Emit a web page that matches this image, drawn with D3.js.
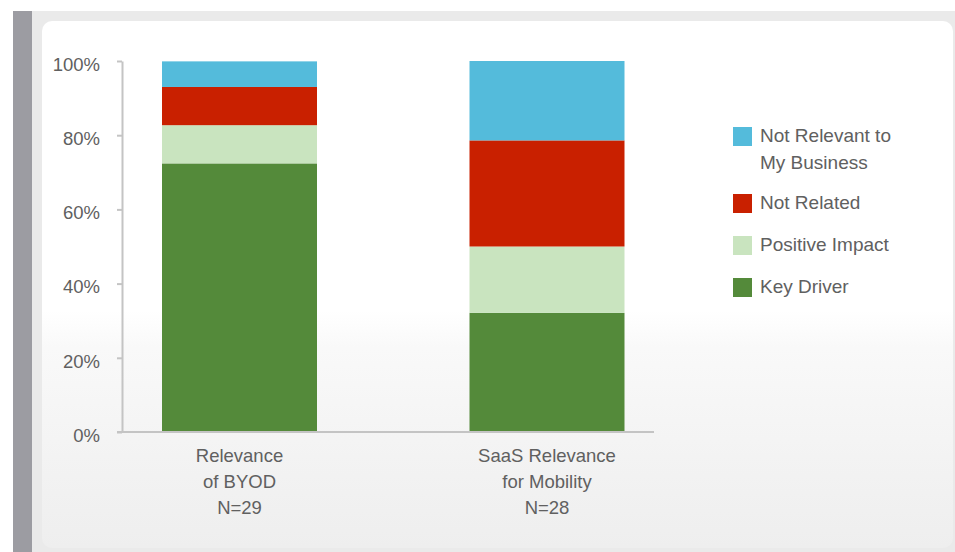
<!DOCTYPE html>
<html>
<head>
<meta charset="utf-8">
<script src="https://cdn.jsdelivr.net/npm/d3@7"></script>
<style>
  html, body { margin: 0; padding: 0; background: #fff; }
  svg { display: block; font-family: 'Liberation Sans', Arial, sans-serif; }
</style>
</head>
<body>
<script>
// survey shares (% of respondents), bottom to top
const categories = ['Relevance|of BYOD|N=29', 'SaaS Relevance|for Mobility|N=28'];
const keyDriver = [72.4, 32.1];
const positiveImpact = [10.3, 17.9];
const notRelated = [10.3, 28.6];
const notRelevant = [6.9, 21.4];
const seriesNames = ['Key Driver', 'Positive Impact', 'Not Related', 'Not Relevant to|My Business'];
const yTicks = [0, 20, 40, 60, 80, 100];

const colors = ['#548a3a', '#c9e4bf', '#c92000', '#54bbdb'];

const width = 955, height = 552;

const svg = d3.select('body').append('svg')
    .attr('width', width)
    .attr('height', height);

// backdrop
const defs = svg.append('defs');
const grad = defs.append('linearGradient')
    .attr('id', 'panelGrad')
    .attr('x1', 0).attr('y1', 0).attr('x2', 0).attr('y2', 1);
grad.append('stop').attr('offset', '0%').attr('stop-color', '#ffffff');
grad.append('stop').attr('offset', '55%').attr('stop-color', '#ffffff');
grad.append('stop').attr('offset', '62%').attr('stop-color', '#f9f9f9');
grad.append('stop').attr('offset', '100%').attr('stop-color', '#eeeeee');

svg.append('rect').attr('x', 13).attr('y', 11).attr('width', width).attr('height', height)
    .attr('fill', '#eaeaea');
svg.append('rect').attr('x', 13).attr('y', 11).attr('width', 19).attr('height', height)
    .attr('fill', '#9c9ca2');
svg.append('rect').attr('x', 42).attr('y', 21).attr('width', 911).attr('height', 527)
    .attr('rx', 10)
    .attr('fill', 'url(#panelGrad)');

const margin = { left: 122, top: 61, bottom: 432 };

// bar centres
const x = d3.scalePoint()
    .domain(categories)
    .range([239.5, 547]);
const barW = 155;

const y = d3.scaleLinear()
    .domain([0, 100])
    .range([margin.bottom, margin.top]);

const table = categories.map((c, i) => ({
  cat: c,
  'Key Driver': keyDriver[i],
  'Positive Impact': positiveImpact[i],
  'Not Related': notRelated[i],
  'Not Relevant to|My Business': notRelevant[i]
}));

const stack = d3.stack().keys(seriesNames)(table);

svg.append('g')
  .selectAll('g')
  .data(stack)
  .join('g')
    .attr('fill', (d, i) => colors[i])
  .selectAll('rect')
  .data(d => d)
  .join('rect')
    .attr('x', d => x(d.data.cat) - barW / 2)
    .attr('width', barW)
    .attr('y', d => y(d[1]))
    .attr('height', d => y(d[0]) - y(d[1]));

// y axis
const yAxis = svg.append('g')
    .attr('transform', `translate(${margin.left},0)`)
    .call(d3.axisLeft(y).tickValues(yTicks).tickFormat(d => d + '%').tickSize(5).tickSizeOuter(0).tickPadding(17));
yAxis.select('.domain').attr('stroke', '#c4c4c4').attr('stroke-width', 2);
yAxis.selectAll('.tick line').attr('stroke', '#c4c4c4').attr('stroke-width', 2);
yAxis.selectAll('.tick text')
    .attr('fill', '#606060')
    .attr('font-size', 18.5)
    .attr('dy', '0.5em');

// x axis line
svg.append('line')
    .attr('x1', 117).attr('x2', 654)
    .attr('y1', y(0)).attr('y2', y(0))
    .attr('stroke', '#c4c4c4')
    .attr('stroke-width', 2);

// category labels
svg.append('g')
  .selectAll('text')
  .data(categories)
  .join('text')
    .attr('x', d => x(d))
    .attr('text-anchor', 'middle')
    .attr('fill', '#606060')
    .attr('font-size', 18.5)
  .selectAll('tspan')
  .data(d => d.split('|'))
  .join('tspan')
    .attr('x', function() { return d3.select(this.parentNode).attr('x'); })
    .attr('y', (d, i) => 462 + i * 26)
    .text(d => d);

// legend, top entry first
const legendItems = seriesNames.map((s, i) => ({ name: s, color: colors[i] })).reverse();
const legendY = [127, 194, 236, 278];
const legend = svg.append('g')
  .selectAll('g')
  .data(legendItems)
  .join('g')
    .attr('transform', (d, i) => `translate(733,${legendY[i]})`);
legend.append('rect')
    .attr('width', 19).attr('height', 19)
    .attr('fill', d => d.color);
legend.append('text')
    .attr('fill', '#606060')
    .attr('font-size', 19)
  .selectAll('tspan')
  .data(d => d.name.split('|'))
  .join('tspan')
    .attr('x', 27)
    .attr('y', (d, i) => 15 + i * 27)
    .text(d => d);
</script>
</body>
</html>
